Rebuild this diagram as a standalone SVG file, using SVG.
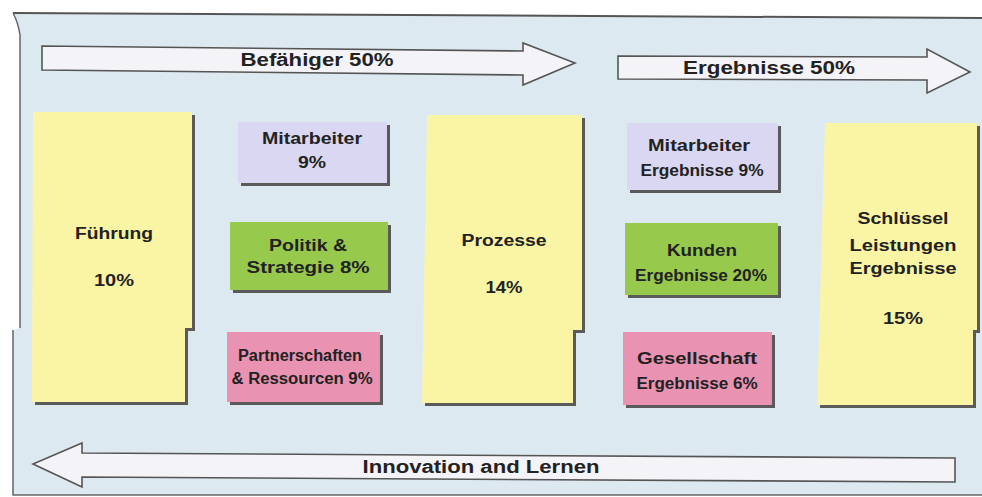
<svg xmlns="http://www.w3.org/2000/svg" width="982" height="497" viewBox="0 0 982 497">
<style>
.t{font-family:"Liberation Sans",Arial,sans-serif;font-weight:bold;fill:#222;text-anchor:middle}
.b{font-size:16px}
.a{font-size:18px}
.sh{fill:#5a5a5a}
.y{fill:#faf5a4}
.l{fill:#d9d7f1}
.g{fill:#97c94c}
.p{fill:#ea92b2}
.arr{fill:#f4f3f7;stroke:#555;stroke-width:1.6}
</style>
<rect x="0" y="0" width="982" height="497" fill="#ffffff"/>
<path d="M13,13 L982,18 L982,495 L13,495 L13,330 L20,328 L20,35 Q18,22 13,13 Z" fill="#dde9f1"/>
<path d="M13,13 L982,18" stroke="#555" stroke-width="2" fill="none"/>
<path d="M13,13 Q18,22 20,35 L20,328 M13,330 L13,495 L982,495" stroke="#666" stroke-width="1.5" fill="none"/>
<g id="connectors">
<polygon class="arr" points="42,46 523,51 523,43 575,63 523,85 523,75 42,70"/>
<polygon class="arr" points="618,56 927,57 927,49 970,72 927,93 927,80 618,79"/>
<polygon class="arr" points="955,458 955,482 82,477 82,487 33,464 82,443 82,453"/>
</g>
<g id="label-befaehiger"><text class="t a" x="317" y="66" textLength="153" lengthAdjust="spacingAndGlyphs">Befähiger 50%</text></g>
<g id="label-ergebnisse"><text class="t a" x="769" y="74" textLength="172" lengthAdjust="spacingAndGlyphs">Ergebnisse 50%</text></g>
<g id="label-innovation"><text class="t a" x="481" y="473" textLength="237" lengthAdjust="spacingAndGlyphs">Innovation and Lernen</text></g>
<g id="fuehrung">
<path class="sh" d="M36,115 L195,115 L195,331 L188,331 L188,405 L35,405 Z"/>
<path class="y" d="M33,112 L192,112 L192,328 L185,328 L185,402 L32,402 Z"/>
<text class="t b" x="114" y="239" textLength="78" lengthAdjust="spacingAndGlyphs">Führung</text>
<text class="t b" x="114" y="286" textLength="40" lengthAdjust="spacingAndGlyphs">10%</text>
</g>
<g id="mitarbeiter">
<rect class="sh" x="241" y="125" width="149" height="61"/>
<rect class="l" x="238" y="122" width="149" height="61"/>
<text class="t b" x="312" y="144" textLength="100" lengthAdjust="spacingAndGlyphs">Mitarbeiter</text>
<text class="t b" x="312" y="168" textLength="28" lengthAdjust="spacingAndGlyphs">9%</text>
</g>
<g id="politik">
<rect class="sh" x="233" y="225" width="158" height="68"/>
<rect class="g" x="230" y="222" width="158" height="68"/>
<text class="t b" x="308" y="251" textLength="78" lengthAdjust="spacingAndGlyphs">Politik &amp;</text>
<text class="t b" x="308" y="273" textLength="123" lengthAdjust="spacingAndGlyphs">Strategie 8%</text>
</g>
<g id="partnerschaften">
<rect class="sh" x="230" y="335" width="153" height="70"/>
<rect class="p" x="227" y="332" width="153" height="70"/>
<text class="t b" x="300" y="361" textLength="124" lengthAdjust="spacingAndGlyphs">Partnerschaften</text>
<text class="t b" x="302" y="384" textLength="141" lengthAdjust="spacingAndGlyphs">&amp; Ressourcen 9%</text>
</g>
<g id="prozesse">
<path class="sh" d="M430,118 L585,118 L585,333 L576,333 L576,406 L425,406 Z"/>
<path class="y" d="M427,115 L582,115 L582,330 L573,330 L573,403 L422,403 Z"/>
<text class="t b" x="504" y="246" textLength="85" lengthAdjust="spacingAndGlyphs">Prozesse</text>
<text class="t b" x="504" y="293" textLength="37" lengthAdjust="spacingAndGlyphs">14%</text>
</g>
<g id="mitarbeiter-ergebnisse">
<rect class="sh" x="630" y="126" width="151" height="67"/>
<rect class="l" x="627" y="123" width="151" height="67"/>
<text class="t b" x="699" y="151" textLength="102" lengthAdjust="spacingAndGlyphs">Mitarbeiter</text>
<text class="t b" x="702" y="176" textLength="123" lengthAdjust="spacingAndGlyphs">Ergebnisse 9%</text>
</g>
<g id="kunden">
<rect class="sh" x="628" y="226" width="153" height="72"/>
<rect class="g" x="625" y="223" width="153" height="72"/>
<text class="t b" x="702" y="256" textLength="70" lengthAdjust="spacingAndGlyphs">Kunden</text>
<text class="t b" x="701" y="281" textLength="132" lengthAdjust="spacingAndGlyphs">Ergebnisse 20%</text>
</g>
<g id="gesellschaft">
<rect class="sh" x="626" y="335" width="149" height="73"/>
<rect class="p" x="623" y="332" width="149" height="73"/>
<text class="t b" x="697" y="364" textLength="120" lengthAdjust="spacingAndGlyphs">Gesellschaft</text>
<text class="t b" x="697" y="389" textLength="121" lengthAdjust="spacingAndGlyphs">Ergebnisse 6%</text>
</g>
<g id="schluessel">
<path class="sh" d="M828,126 L980,126 L980,333 L976,333 L976,408 L820,408 Z"/>
<path class="y" d="M825,123 L977,123 L977,330 L973,330 L973,405 L817,405 Z"/>
<text class="t b" x="903" y="224" textLength="91" lengthAdjust="spacingAndGlyphs">Schlüssel</text>
<text class="t b" x="903" y="251" textLength="107" lengthAdjust="spacingAndGlyphs">Leistungen</text>
<text class="t b" x="903" y="274" textLength="107" lengthAdjust="spacingAndGlyphs">Ergebnisse</text>
<text class="t b" x="903" y="324" textLength="40" lengthAdjust="spacingAndGlyphs">15%</text>
</g>
</svg>
